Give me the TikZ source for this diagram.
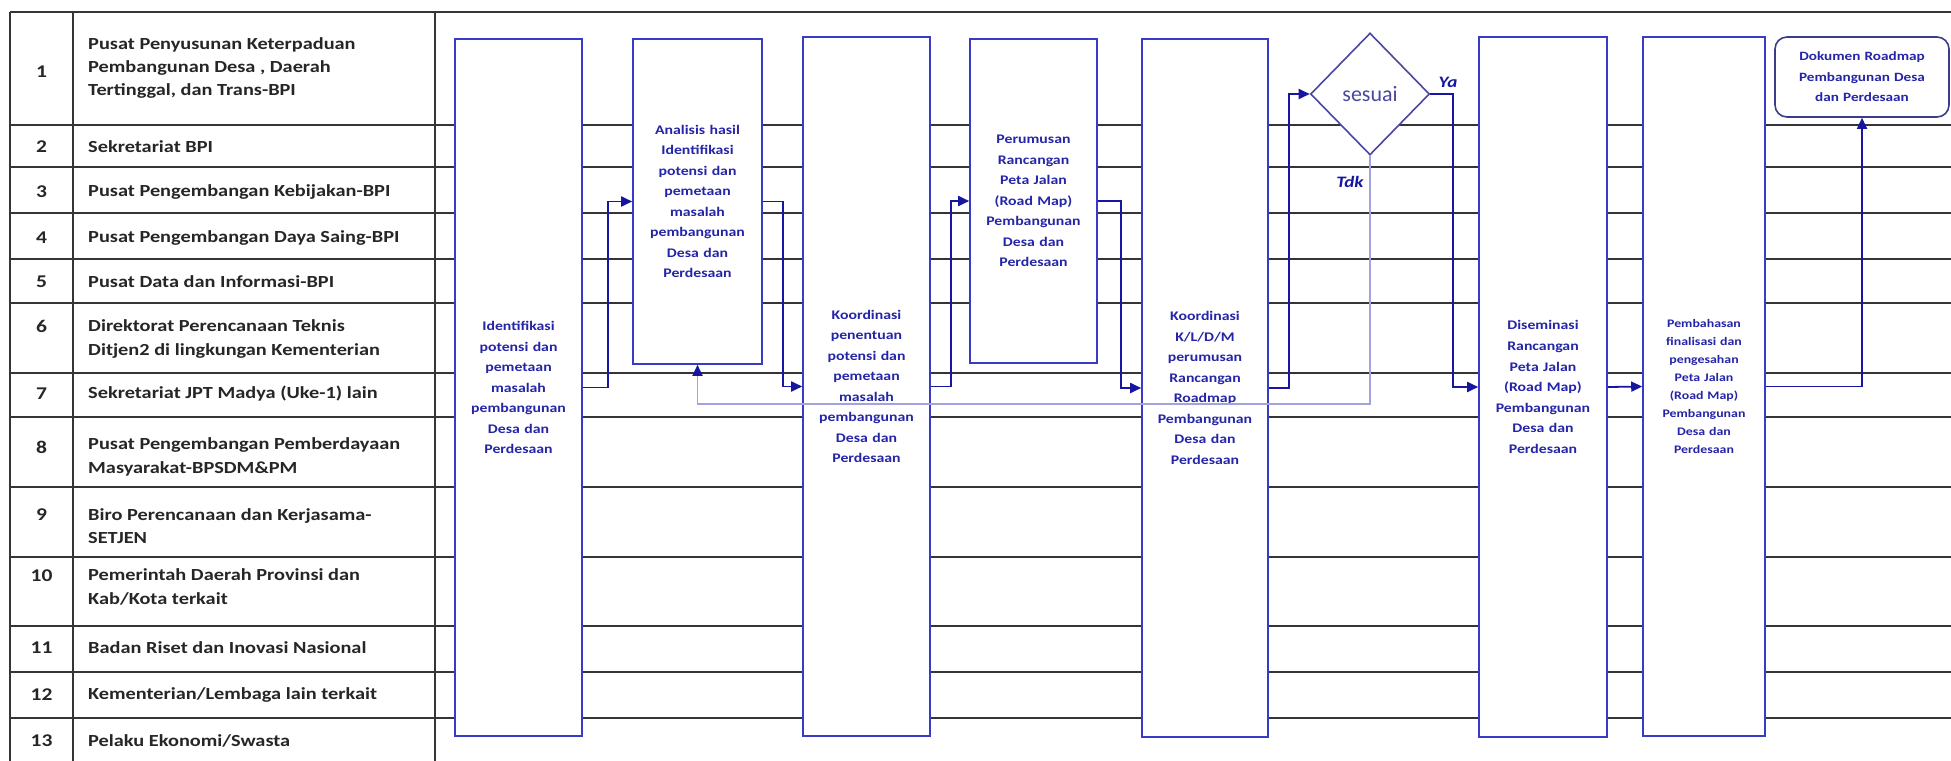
\documentclass[tikz,border=0pt]{standalone}
\usepackage{fontspec}
\setmainfont{Carlito}
\newfontfamily\lanefont[FakeStretch=1.2]{Carlito}
\usetikzlibrary{arrows.meta,shapes.geometric}

\definecolor{gridcol}{HTML}{353535}
\definecolor{boxblue}{HTML}{3A3AC8}
\definecolor{txtblue}{HTML}{2525A8}
\definecolor{flowblue}{HTML}{1616A0}
\definecolor{retcol}{HTML}{A2A2DC}
\definecolor{slate}{HTML}{4848A0}
\definecolor{docframe}{HTML}{3C3C8C}

\tikzset{
  gridrule/.style={draw=gridcol, line width=2.2bp},
  lanenum/.style={inner sep=0pt, font=\lanefont\bfseries\fontsize{18}{23.5}\selectfont, text=black!85},
  lanetext/.style={anchor=west, inner sep=0pt, align=left,
    font=\lanefont\bfseries\fontsize{17}{23.5}\selectfont, text=black!85},
  procbox/.style={draw=boxblue, line width=1.6bp, fill=white, inner sep=0pt,
    text=txtblue, align=center, text width=122bp,
    font=\lanefont\bfseries\fontsize{13.2}{20.6}\selectfont},
  smallbox/.style={procbox, font=\lanefont\bfseries\fontsize{11.6}{18.1}\selectfont},
  decision/.style={diamond, draw=slate, line width=1.6bp, fill=white, inner sep=0pt,
    minimum width=119bp, minimum height=122bp, text=slate,
    font=\fontsize{22}{24}\selectfont},
  docbox/.style={draw=docframe, line width=1.6bp, fill=white, rounded corners=12bp,
    inner sep=0pt, text=txtblue, align=center, text width=168bp,
    minimum width=174bp, minimum height=80bp,
    font=\lanefont\bfseries\fontsize{12.7}{20.6}\selectfont},
  flow/.style={draw=flowblue, line width=1.8bp, -{Triangle[length=11bp,width=10bp]}},
  backflow/.style={draw=retcol, line width=1.8bp,
    -{Triangle[length=11bp,width=10bp,color=flowblue]}},
  branchlbl/.style={inner sep=0pt, text=flowblue,
    font=\lanefont\bfseries\itshape\fontsize{16}{18}\selectfont},
}

\begin{document}
\begin{tikzpicture}[x=1bp,y=-1bp]
\useasboundingbox (0,0) rectangle (1951,761);
\fill[white] (0,0) rectangle (1951,761);

% lane grid
\draw[gridrule] (10,12) -- (1951,12);
\foreach \yy in {125,167,213,259,303,373,417,487,557,626,672,718}
  \draw[gridrule] (10,\yy) -- (1951,\yy);
\foreach \xx in {10,73,435}
  \draw[gridrule] (\xx,12) -- (\xx,761);

% lane numbers
\foreach \n/\yy in {1/72,2/147,3/192,4/238,5/282,6/326,7/394,8/447,9/515,10/576,11/648,12/695,13/741}
  \node[lanenum] (num\n) at (41.5,\yy) {\n};

% lane names
\node[lanetext] (lane1) at (88,68) {Pusat Penyusunan Keterpaduan\\Pembangunan Desa , Daerah\\Tertinggal, dan Trans-BPI};
\node[lanetext] (lane2) at (88,147) {Sekretariat BPI};
\node[lanetext] (lane3) at (88,192) {Pusat Pengembangan Kebijakan-BPI};
\node[lanetext] (lane4) at (88,238) {Pusat Pengembangan Daya Saing-BPI};
\node[lanetext] (lane5) at (88,282) {Pusat Data dan Informasi-BPI};
\node[lanetext] (lane6) at (88,339) {Direktorat Perencanaan Teknis\\Ditjen2 di lingkungan Kementerian};
\node[lanetext] (lane7) at (88,394) {Sekretariat JPT Madya (Uke-1) lain};
\node[lanetext] (lane8) at (88,457) {Pusat Pengembangan Pemberdayaan\\Masyarakat-BPSDM\&PM};
\node[lanetext] (lane9) at (88,526) {Biro Perencanaan dan Kerjasama-\\SETJEN};
\node[lanetext] (lane10) at (88,587) {Pemerintah Daerah Provinsi dan\\Kab/Kota terkait};
\node[lanetext] (lane11) at (88,648) {Badan Riset dan Inovasi Nasional};
\node[lanetext] (lane12) at (88,695) {Kementerian/Lembaga lain terkait};
\node[lanetext] (lane13) at (88,741) {Pelaku Ekonomi/Swasta};

% process steps
\node[procbox, minimum width=127bp, minimum height=697bp] (A) at (518.5,387.5)
  {Identifikasi\\potensi dan\\pemetaan\\masalah\\pembangunan\\Desa dan\\Perdesaan};
\node[procbox, minimum width=129bp, minimum height=325bp] (B) at (697.5,201.5)
  {Analisis hasil\\Identifikasi\\potensi dan\\pemetaan\\masalah\\pembangunan\\Desa dan\\Perdesaan};
\node[procbox, minimum width=127bp, minimum height=699bp] (C) at (866.5,386.5)
  {Koordinasi\\penentuan\\potensi dan\\pemetaan\\masalah\\pembangunan\\Desa dan\\Perdesaan};
\node[procbox, minimum width=127bp, minimum height=324bp] (D) at (1033.5,201)
  {Perumusan\\Rancangan\\Peta Jalan\\(Road Map)\\Pembangunan\\Desa dan\\Perdesaan};
\node[procbox, minimum width=126bp, minimum height=698bp] (E) at (1205,388)
  {Koordinasi\\K/L/D/M\\perumusan\\Rancangan\\Roadmap\\Pembangunan\\Desa dan\\Perdesaan};
\node[decision] (dec) at (1370,94) {sesuai};
\node[procbox, minimum width=128bp, minimum height=700bp] (F) at (1543,387)
  {Diseminasi\\Rancangan\\Peta Jalan\\(Road Map)\\Pembangunan\\Desa dan\\Perdesaan};
\node[smallbox, text width=116bp, minimum width=122bp, minimum height=699bp] (G) at (1704,386.5)
  {Pembahasan\\finalisasi dan\\pengesahan\\Peta Jalan\\(Road Map)\\Pembangunan\\Desa dan\\Perdesaan};
\node[docbox] (H) at (1862,77)
  {Dokumen Roadmap\\Pembangunan Desa\\dan Perdesaan};

% connectors
\draw[flow] (A.east) -- ++(25,0) |- (B.west);
\draw[flow] (B.east) -- ++(20,0) |- (C.west);
\draw[flow] (C.east) -- ++(20,0) |- (D.west);
\draw[flow] (D.east) -- ++(23,0) |- (E.west);
\draw[flow] (E.east) -- ++(20,0) |- (dec.west);
\draw[flow] (dec.east) -- ++(23,0) |- (F.west);
\draw[backflow] (dec.south) -- ++(0,248) -| (B.south);
\draw[flow] (F.east) -- (G.west);
\draw[flow] (G.east) -| (H.south);

% decision branch labels
\node[branchlbl] (ya) at (1448,82) {Ya};
\node[branchlbl] (tdk) at (1350,182) {Tdk};
\end{tikzpicture}
\end{document}
